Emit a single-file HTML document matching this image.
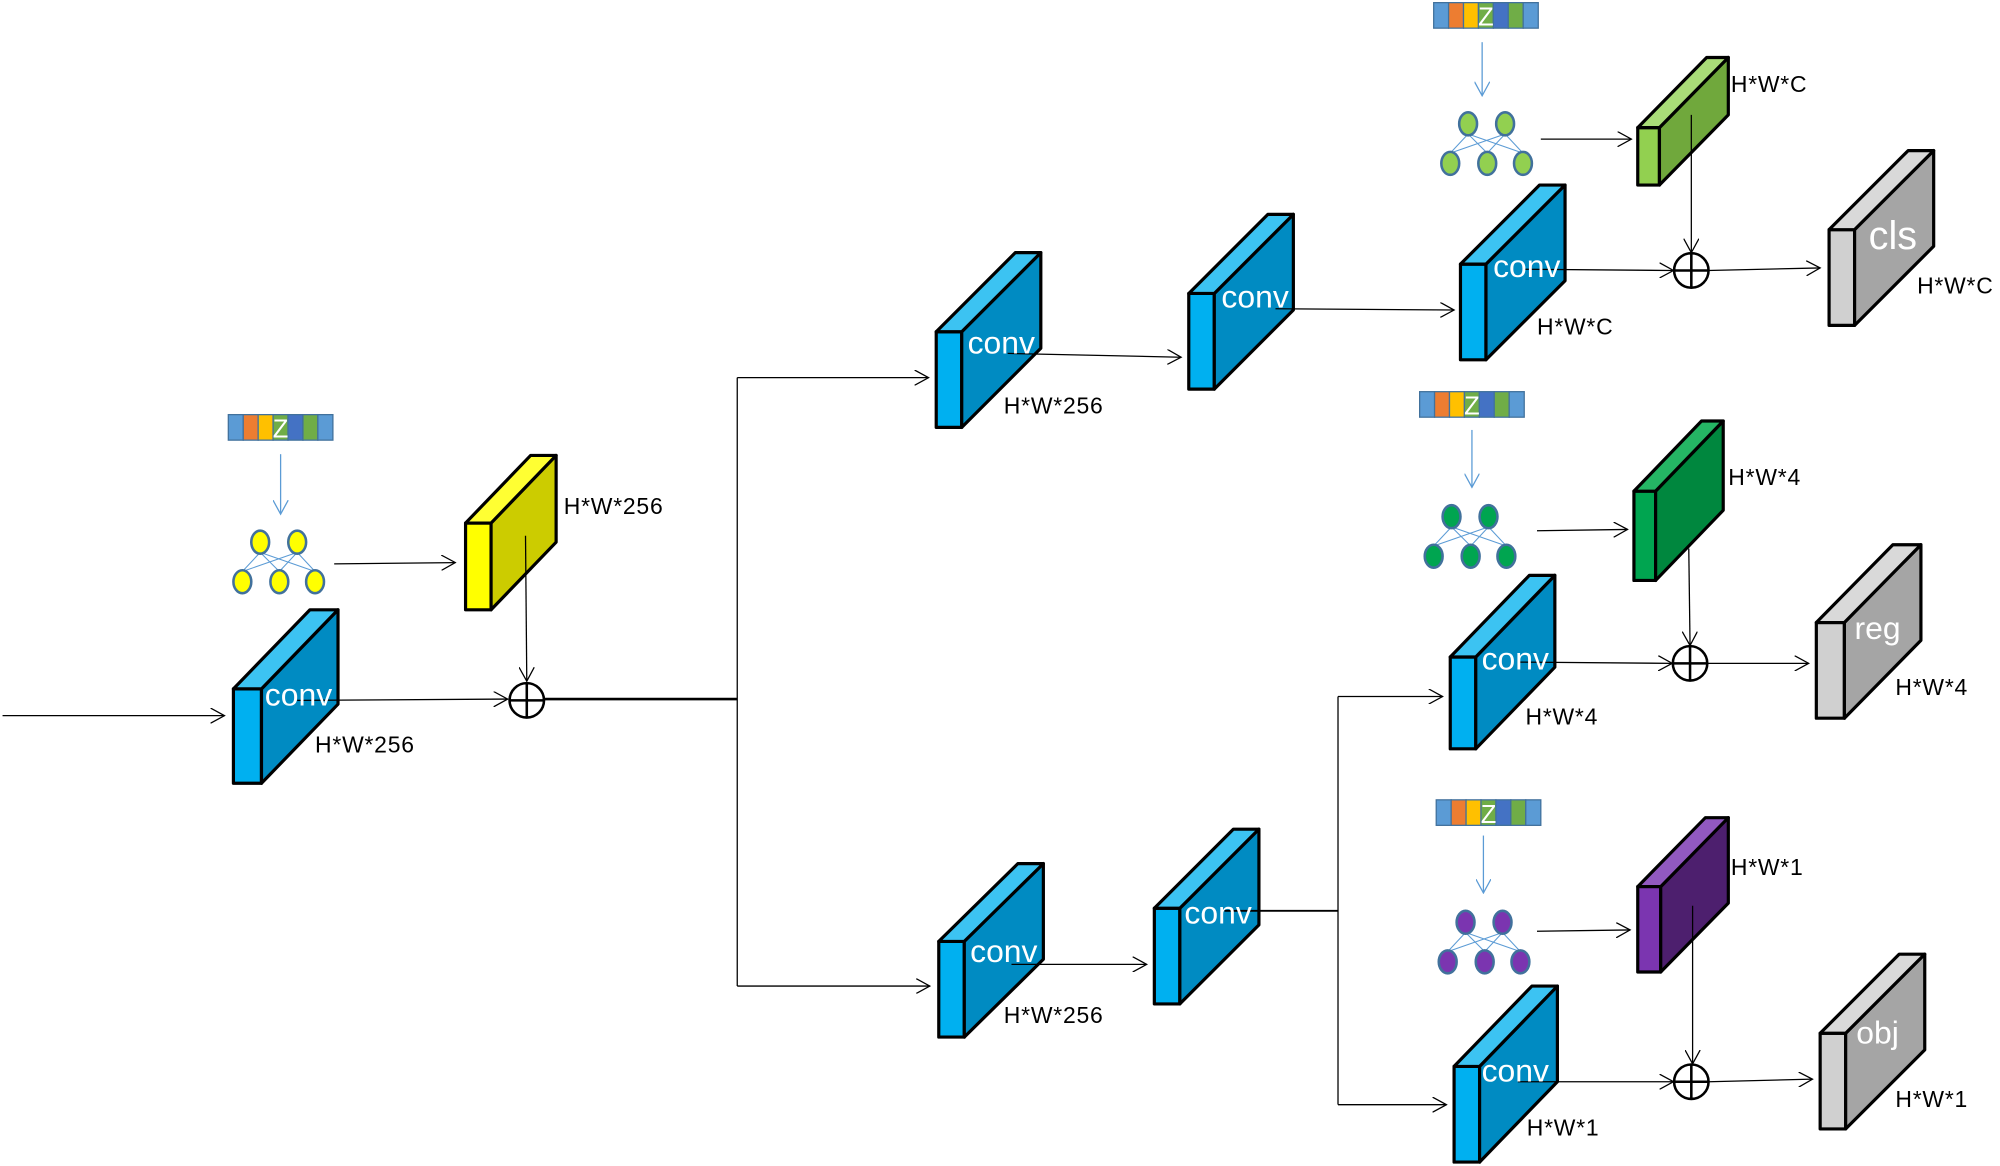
<!DOCTYPE html>
<html><head><meta charset="utf-8"><style>html,body{margin:0;padding:0;background:#fff}svg{display:block}</style></head>
<body>
<svg width="2000" height="1166" viewBox="0 0 1568 914" xmlns="http://www.w3.org/2000/svg" font-family="Liberation Sans, DejaVu Sans, sans-serif">
<defs>
<marker id="ah" viewBox="0 0 12 12" refX="11" refY="6" markerWidth="12" markerHeight="12" markerUnits="userSpaceOnUse" orient="auto">
<polyline points="0,0 11,6 0,12" fill="none" stroke="#000" stroke-width="1"/></marker>
<marker id="ahb" viewBox="0 0 12 12" refX="11" refY="6" markerWidth="12" markerHeight="12" markerUnits="userSpaceOnUse" orient="auto">
<polyline points="0,0 11,6 0,12" fill="none" stroke="#5b9bd5" stroke-width="1"/></marker>
<g id="zb" stroke="#41719c" stroke-width="1">
<rect x="0" y="0" width="11.7" height="20" fill="#5b9bd5"/>
<rect x="11.7" y="0" width="11.7" height="20" fill="#ed7d31"/>
<rect x="23.4" y="0" width="11.7" height="20" fill="#ffc000"/>
<rect x="35.1" y="0" width="11.7" height="20" fill="#70ad47"/>
<rect x="46.8" y="0" width="11.7" height="20" fill="#4472c4"/>
<rect x="58.5" y="0" width="11.7" height="20" fill="#70ad47"/>
<rect x="70.2" y="0" width="11.8" height="20" fill="#5b9bd5"/>
</g>
<g id="nn">
<g stroke="#5b9bd5" stroke-width="0.8">
<line x1="21" y1="17" x2="7" y2="32"/><line x1="21" y1="17" x2="36" y2="32"/><line x1="21" y1="17" x2="64" y2="32"/>
<line x1="50" y1="17" x2="7" y2="32"/><line x1="50" y1="17" x2="36" y2="32"/><line x1="50" y1="17" x2="64" y2="32"/>
</g>
<g stroke="#41719c" stroke-width="2">
<ellipse cx="21" cy="9" rx="7" ry="9"/><ellipse cx="50" cy="9" rx="7" ry="9"/>
<ellipse cx="7" cy="40" rx="7" ry="9"/><ellipse cx="36" cy="40" rx="7" ry="9"/><ellipse cx="64" cy="40" rx="7" ry="9"/>
</g>
</g>
</defs>

<g stroke="#000" stroke-width="2.5" stroke-linejoin="round">
<rect x="183" y="540" width="22" height="74" fill="#00b0f0"/>
<polygon points="205,540 265,478 265,552 205,614" fill="#008bc2"/>
<polygon points="183,540 243,478 265,478 205,540" fill="#3cc3f2"/>
<rect x="365" y="410" width="20" height="68" fill="#ffff00"/>
<polygon points="385,410 436,357 436,425 385,478" fill="#cccc00"/>
<polygon points="365,410 416,357 436,357 385,410" fill="#ffff33"/>
<rect x="734" y="260" width="20" height="75" fill="#00b0f0"/>
<polygon points="754,260 816,198 816,273 754,335" fill="#008bc2"/>
<polygon points="734,260 796,198 816,198 754,260" fill="#3cc3f2"/>
<rect x="932" y="230" width="20" height="75" fill="#00b0f0"/>
<polygon points="952,230 1014,168 1014,243 952,305" fill="#008bc2"/>
<polygon points="932,230 994,168 1014,168 952,230" fill="#3cc3f2"/>
<rect x="1145" y="207" width="20" height="75" fill="#00b0f0"/>
<polygon points="1165,207 1227,145 1227,220 1165,282" fill="#008bc2"/>
<polygon points="1145,207 1207,145 1227,145 1165,207" fill="#3cc3f2"/>
<rect x="1284" y="100" width="17" height="45" fill="#92d050"/>
<polygon points="1301,100 1355,45 1355,90 1301,145" fill="#70a83c"/>
<polygon points="1284,100 1338,45 1355,45 1301,100" fill="#a9dc78"/>
<rect x="1434" y="180" width="20" height="75" fill="#d0d0d0"/>
<polygon points="1454,180 1516,118 1516,193 1454,255" fill="#a5a5a5"/>
<polygon points="1434,180 1496,118 1516,118 1454,180" fill="#d9d9d9"/>
<rect x="1281" y="385" width="17" height="70" fill="#00a550"/>
<polygon points="1298,385 1351,330 1351,400 1298,455" fill="#00873e"/>
<polygon points="1281,385 1334,330 1351,330 1298,385" fill="#25b564"/>
<rect x="1137" y="515" width="20" height="72" fill="#00b0f0"/>
<polygon points="1157,515 1219,451 1219,523 1157,587" fill="#008bc2"/>
<polygon points="1137,515 1199,451 1219,451 1157,515" fill="#3cc3f2"/>
<rect x="1424" y="488" width="22" height="75" fill="#d0d0d0"/>
<polygon points="1446,488 1506,427 1506,502 1446,563" fill="#a5a5a5"/>
<polygon points="1424,488 1484,427 1506,427 1446,488" fill="#d9d9d9"/>
<rect x="736" y="738" width="20" height="75" fill="#00b0f0"/>
<polygon points="756,738 818,677 818,752 756,813" fill="#008bc2"/>
<polygon points="736,738 798,677 818,677 756,738" fill="#3cc3f2"/>
<rect x="905" y="712" width="20" height="75" fill="#00b0f0"/>
<polygon points="925,712 987,650 987,725 925,787" fill="#008bc2"/>
<polygon points="905,712 967,650 987,650 925,712" fill="#3cc3f2"/>
<rect x="1284" y="695" width="18" height="67" fill="#7b35b0"/>
<polygon points="1302,695 1355,641 1355,708 1302,762" fill="#4d1f6e"/>
<polygon points="1284,695 1337,641 1355,641 1302,695" fill="#9159c0"/>
<rect x="1140" y="836" width="20" height="75" fill="#00b0f0"/>
<polygon points="1160,836 1221,773 1221,848 1160,911" fill="#008bc2"/>
<polygon points="1140,836 1201,773 1221,773 1160,836" fill="#3cc3f2"/>
<rect x="1427" y="810" width="20" height="75" fill="#d0d0d0"/>
<polygon points="1447,810 1509,748 1509,823 1447,885" fill="#a5a5a5"/>
<polygon points="1427,810 1489,748 1509,748 1447,810" fill="#d9d9d9"/>
</g>

<use href="#zb" x="179" y="325"/>
<use href="#zb" x="1124" y="2"/>
<use href="#zb" x="1113" y="307"/>
<use href="#zb" x="1126" y="627"/>
<g fill="#fff" font-size="20" text-anchor="middle">
<text x="220" y="343">Z</text><text x="1165" y="20">Z</text><text x="1154" y="325">Z</text><text x="1167" y="645">Z</text>
</g>

<use href="#nn" x="183" y="416" fill="#ffff00"/>
<use href="#nn" x="1130" y="88" fill="#92d050"/>
<use href="#nn" x="1117" y="396" fill="#00a550"/>
<use href="#nn" x="1128" y="714" fill="#7b35b0"/>

<g stroke="#5b9bd5" stroke-width="1" marker-end="url(#ahb)">
<line x1="220" y1="356" x2="220" y2="403"/>
<line x1="1162" y1="33" x2="1162" y2="75"/>
<line x1="1154" y1="337" x2="1154" y2="382"/>
<line x1="1163" y1="655" x2="1163" y2="700"/>
</g>

<g stroke="#000" stroke-width="1" fill="none">
<line x1="2" y1="561" x2="176" y2="561" marker-end="url(#ah)"/>
<line x1="262" y1="442" x2="357" y2="441" marker-end="url(#ah)"/>
<line x1="233" y1="549" x2="398" y2="548" marker-end="url(#ah)"/>
<line x1="412" y1="420" x2="413" y2="534" marker-end="url(#ah)"/>
<line x1="427" y1="548" x2="578" y2="548" stroke-width="2"/>
<line x1="578" y1="296" x2="578" y2="773"/>
<line x1="578" y1="296" x2="728" y2="296" marker-end="url(#ah)"/>
<line x1="578" y1="773" x2="729" y2="773" marker-end="url(#ah)"/>
<line x1="790" y1="277" x2="926" y2="280" marker-end="url(#ah)"/>
<line x1="1000" y1="242" x2="1140" y2="243" marker-end="url(#ah)"/>
<line x1="1195" y1="211" x2="1312" y2="212" marker-end="url(#ah)"/>
<line x1="1339" y1="212" x2="1427" y2="210" marker-end="url(#ah)"/>
<line x1="1326" y1="90" x2="1326" y2="198" marker-end="url(#ah)"/>
<line x1="1208" y1="109" x2="1279" y2="109" marker-end="url(#ah)"/>
<line x1="1205" y1="416" x2="1276" y2="415" marker-end="url(#ah)"/>
<line x1="1324" y1="430" x2="1325" y2="506" marker-end="url(#ah)"/>
<line x1="1190" y1="519" x2="1311" y2="520" marker-end="url(#ah)"/>
<line x1="1338" y1="520" x2="1418" y2="520" marker-end="url(#ah)"/>
<line x1="793" y1="756" x2="899" y2="756" marker-end="url(#ah)"/>
<line x1="960" y1="714" x2="1049" y2="714" stroke-width="1.5"/>
<line x1="1049" y1="546" x2="1049" y2="866"/>
<line x1="1049" y1="546" x2="1131" y2="546" marker-end="url(#ah)"/>
<line x1="1049" y1="866" x2="1134" y2="866" marker-end="url(#ah)"/>
<line x1="1205" y1="730" x2="1278" y2="729" marker-end="url(#ah)"/>
<line x1="1327" y1="710" x2="1327" y2="834" marker-end="url(#ah)"/>
<line x1="1190" y1="848" x2="1312" y2="848" marker-end="url(#ah)"/>
<line x1="1340" y1="848" x2="1421" y2="846" marker-end="url(#ah)"/>
</g>

<g stroke="#000" stroke-width="2" fill="none">
<circle cx="413" cy="549" r="13.5"/><path d="M399.5 549H426.5M413 535.5V562.5"/>
<circle cx="1326" cy="212" r="13.5"/><path d="M1312.5 212H1339.5M1326 198.5V225.5"/>
<circle cx="1325" cy="520" r="13.5"/><path d="M1311.5 520H1338.5M1325 506.5V533.5"/>
<circle cx="1326" cy="848" r="13.5"/><path d="M1312.5 848H1339.5M1326 834.5V861.5"/>
</g>

<g fill="#fff" font-size="25" text-anchor="middle">
<text x="234" y="553">conv</text>
<text x="785" y="277">conv</text>
<text x="984" y="241">conv</text>
<text x="1197" y="217">conv</text>
<text x="1188" y="525">conv</text>
<text x="787" y="754">conv</text>
<text x="955" y="724">conv</text>
<text x="1188" y="848">conv</text>
<text x="1484" y="195" font-size="31">cls</text>
<text x="1472" y="501">reg</text>
<text x="1472" y="818">obj</text>
</g>

<g fill="#000" font-size="18" letter-spacing="0.6">
<text x="247" y="590">H*W*256</text>
<text x="442" y="403">H*W*256</text>
<text x="787" y="324">H*W*256</text>
<text x="1205" y="262">H*W*C</text>
<text x="1357" y="72">H*W*C</text>
<text x="1503" y="230">H*W*C</text>
<text x="1355" y="380">H*W*4</text>
<text x="1196" y="568">H*W*4</text>
<text x="1486" y="545">H*W*4</text>
<text x="787" y="802">H*W*256</text>
<text x="1357" y="686">H*W*1</text>
<text x="1197" y="890">H*W*1</text>
<text x="1486" y="868">H*W*1</text>
</g>
</svg>
</body></html>
